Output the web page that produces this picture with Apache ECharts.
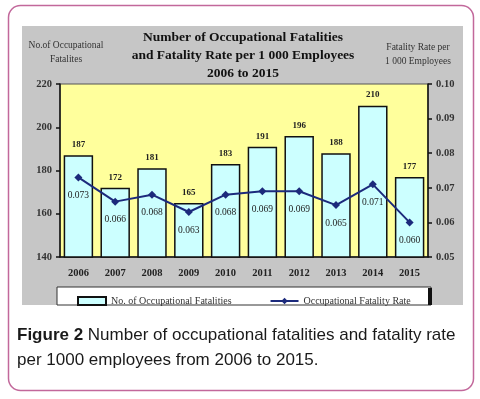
<!DOCTYPE html>
<html>
<head>
<meta charset="utf-8">
<script src="https://cdn.jsdelivr.net/npm/echarts@6/dist/echarts.min.js"></script>
<style>
  html, body { margin: 0; padding: 0; background: #fff; }
  #chart { width: 480px; height: 399px; }
</style>
</head>
<body>
<div id="chart"></div>
<script>
// data
const years = ['2006', '2007', '2008', '2009', '2010', '2011', '2012', '2013', '2014', '2015'];
const fatalities = [187, 172, 181, 165, 183, 191, 196, 188, 210, 177];
const fatalityRate = [0.073, 0.066, 0.068, 0.063, 0.068, 0.069, 0.069, 0.065, 0.071, 0.060];
const leftTicks = { min: 140, max: 220, step: 20 };
const rightTicks = { min: 0.05, max: 0.10, step: 0.01 };

const serif = 'Liberation Serif';
const chart = echarts.init(document.getElementById('chart'));

chart.setOption({
    animation: false,
    backgroundColor: '#fff',
    title: {
        text: 'Number of Occupational Fatalities\nand Fatality Rate per 1 000 Employees\n2006 to 2015',
        left: 238,
        top: 24,
        textAlign: 'center',
        textStyle: {
            fontFamily: serif,
            fontSize: 13.5,
            fontWeight: 'bold',
            color: '#111',
            lineHeight: 18
        }
    },
    legend: {
        left: 72,
        top: 291,
        itemWidth: 28,
        itemHeight: 8,
        itemGap: 38,
        textStyle: { fontFamily: serif, fontSize: 10, color: '#333' },
        data: [
            { name: 'No. of Occupational Fatalities', icon: 'rect' },
            { name: 'Occupational Fatality Rate' }
        ]
    },
    grid: {
        left: 60,
        right: 52,
        top: 84,
        bottom: 142,
        show: true,
        backgroundColor: '#ffff9c',
        borderColor: '#555',
        borderWidth: 1
    },
    xAxis: {
        type: 'category',
        data: years,
        axisLine: { lineStyle: { color: '#111', width: 1.5 } },
        axisTick: { inside: true, length: 4, lineStyle: { color: '#111' } },
        axisLabel: {
            fontFamily: serif,
            fontSize: 10.5,
            fontWeight: 'bold',
            color: '#222',
            margin: 11
        }
    },
    yAxis: [
        {
            type: 'value',
            name: 'No.of Occupational\nFatalites',
            nameLocation: 'end',
            nameGap: 18,
            nameTextStyle: {
                fontFamily: serif,
                fontSize: 9.5,
                color: '#333',
                align: 'center',
                lineHeight: 14,
                padding: [0, 0, 0, 12]
            },
            min: leftTicks.min,
            max: leftTicks.max,
            interval: leftTicks.step,
            splitLine: { show: false },
            axisLine: { show: true, lineStyle: { color: '#111', width: 1.5 } },
            axisTick: { show: true, length: 4, lineStyle: { color: '#111', width: 1.5 } },
            axisLabel: {
                fontFamily: serif,
                fontSize: 10.5,
                fontWeight: 'bold',
                color: '#333',
                margin: 8
            }
        },
        {
            type: 'value',
            name: 'Fatality Rate per\n1 000 Employees',
            nameLocation: 'end',
            nameGap: 16,
            nameTextStyle: {
                fontFamily: serif,
                fontSize: 9.5,
                color: '#333',
                align: 'center',
                lineHeight: 14,
                padding: [0, 20, 0, 0]
            },
            min: rightTicks.min,
            max: rightTicks.max,
            interval: rightTicks.step,
            splitLine: { show: false },
            axisLine: { show: true, lineStyle: { color: '#111', width: 1.5 } },
            axisTick: { show: true, length: 4, lineStyle: { color: '#111', width: 1.5 } },
            axisLabel: {
                fontFamily: serif,
                fontSize: 10.5,
                fontWeight: 'bold',
                color: '#333',
                margin: 8,
                formatter: v => v.toFixed(2)
            }
        }
    ],
    series: [
        {
            name: 'No. of Occupational Fatalities',
            type: 'bar',
            data: fatalities,
            yAxisIndex: 0,
            barCategoryGap: '20%',
            itemStyle: { color: '#ccffff', borderColor: '#111', borderWidth: 1.5 },
            label: {
                show: true,
                position: 'top',
                distance: 6,
                fontFamily: serif,
                fontSize: 9,
                fontWeight: 'bold',
                color: '#222'
            }
        },
        {
            name: 'Occupational Fatality Rate',
            type: 'line',
            data: fatalityRate,
            yAxisIndex: 1,
            symbol: 'diamond',
            symbolSize: 8,
            lineStyle: { color: '#1c2a7c', width: 2 },
            itemStyle: { color: '#1c2a7c' },
            label: {
                show: true,
                position: 'bottom',
                distance: 9,
                fontFamily: serif,
                fontSize: 9.5,
                color: '#222',
                formatter: p => p.value.toFixed(3)
            }
        }
    ],
    graphic: [
        {
            type: 'rect', z: -10,
            shape: { x: 8.5, y: 5.5, width: 465, height: 385, r: 12 },
            style: { fill: '#fff', stroke: '#c2689b', lineWidth: 1.5 }
        },
        {
            type: 'rect', z: -9,
            shape: { x: 22, y: 26, width: 441, height: 279 },
            style: { fill: '#c6c6c6' }
        },
        {
            type: 'rect', z: -8,
            shape: { x: 57, y: 287, width: 374, height: 18 },
            style: { fill: '#fff', stroke: '#333', lineWidth: 1 }
        },
        {
            type: 'rect', z: -7,
            shape: { x: 428, y: 288, width: 4, height: 17 },
            style: { fill: '#111' }
        },
        {
            type: 'text',
            left: 17,
            top: 323,
            style: {
                text: '{b|Figure 2} Number of occupational fatalities and fatality rate\nper 1000 employees from 2006 to 2015.',
                fontFamily: 'Liberation Sans',
                fontSize: 17,
                fill: '#1a1a1a',
                lineHeight: 25,
                rich: {
                    b: { fontFamily: 'Liberation Sans', fontSize: 17, fontWeight: 'bold', fill: '#1a1a1a' }
                }
            }
        }
    ]
});
</script>
</body>
</html>
